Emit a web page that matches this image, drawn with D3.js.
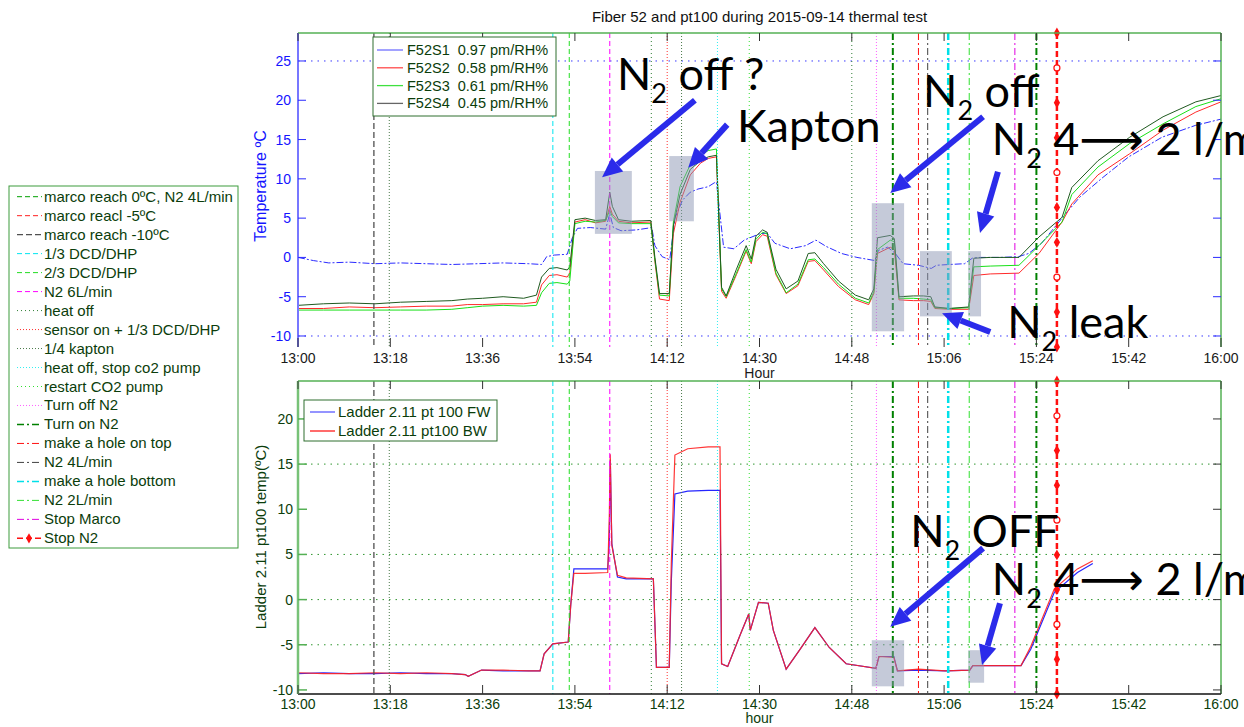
<!DOCTYPE html>
<html>
<head>
<meta charset="utf-8">
<script src="https://cdn.jsdelivr.net/npm/d3@7"></script>
<style>
  body { margin: 0; background: #fff; }
  svg { display: block; font-family: "Liberation Sans", Arial, sans-serif; }
</style>
</head>
<body>
<script>
// ---------- data (time = minutes after 13:00) ----------
var timeTicks = [0, 18, 36, 54, 72, 90, 108, 126, 144, 162, 180];
var timeTickLabels = ["13:00", "13:18", "13:36", "13:54", "14:12", "14:30", "14:48", "15:06", "15:24", "15:42", "16:00"];
var tempTicks = [-10, -5, 0, 5, 10, 15, 20, 25];
var tempGrid = [-10, 25];
var ladderTicks = [-10, -5, 0, 5, 10, 15, 20];
var ladderGrid = [-5, 0, 5, 15];

var fiberNames = ["F52S1  0.97 pm/RH%", "F52S2  0.58 pm/RH%", "F52S3  0.61 pm/RH%", "F52S4  0.45 pm/RH%"];

var timeS1 = [0, 3, 6, 10, 15, 20, 25, 30, 35, 40, 45, 47.5, 48.5, 50, 52.5, 53.5, 54.5, 57, 60, 60.8,
  61.5, 63, 66, 69, 69.6, 71, 72.5, 73.5, 75, 76.5, 78, 80, 81.2, 81.6, 83, 85, 87, 90, 91.5, 93,
  96, 99, 101, 103, 106, 109, 112.5, 113.2, 115, 116.5, 118, 121, 123.5, 124.5, 127, 130, 131.5, 133, 137, 140.5,
  142.5, 145, 147, 150, 152.5, 157, 162, 168.5, 175, 180];
var s1 = [0, -0.4, -0.7, -0.6, -0.8, -0.7, -0.8, -0.9, -0.8, -0.7, -0.8, -0.9, 0.1, 0.3, 0.4, 2.5, 3.7, 3.8, 3.6, 5.6,
  3.8, 3.4, 3.5, 3.8, 1.5, 0.1, -0.3, 5, 7.3, 8.3, 8.7, 9, 9.5, 9.6, 1.3, 1.1, 2.2, 3, 3.1, 1.8,
  1.1, 1.5, 2.2, 1.4, 0.5, 0, -0.4, 0.9, 1.3, 0.5, -0.8, -1.0, -1.4, -1, -0.9, -0.8, -0.1, 0, 0, 0.1,
  0.5, 1.8, 3.4, 5.8, 7.7, 10.2, 12.8, 15.3, 16.8, 17.6];

var timeFiber = [0, 5, 10, 15, 20, 25, 30, 33, 36, 40, 44, 46.5, 47.5, 49, 50.5, 52.5, 53, 54, 56, 58,
  60, 60.8, 61.3, 62.5, 65, 68.8, 69.6, 70.5, 72.4, 73.2, 74.5, 76.5, 78.5, 80, 81.6, 82.6, 83.5, 85.5, 87.4, 88.4,
  89.3, 90.6, 91.5, 93.2, 95.2, 97.5, 99.5, 100.8, 102.5, 105.4, 108.7, 111.3, 112.3, 113, 115.5, 116.3, 117.2, 120, 122, 123.4,
  124.2, 127, 130.8, 131.8, 135, 140.6, 144.5, 149, 150.9, 156, 162.2, 168.7, 175.1, 180];
var s2 = [-6.5, -6.5, -6.3, -6.4, -6.3, -6.2, -6.2, -6.0, -6.0, -5.9, -5.9, -5.7, -3.5, -2.3, -2.2, -2.5, -2.0, 4.5, 4.8, 4.4,
  4.6, 6.5, 5.5, 4.6, 4.4, 4.5, -0.5, -5.3, -5.5, 3, 7, 10.5, 12.0, 12.6, 12.8, -4.3, -5.2, -2.2, 0.8, -0.8,
  2.0, 2.9, 2.7, -2.2, -4.6, -3.6, -0.5, -0.4, -1.6, -3.7, -5.4, -6.0, -4.6, 0.5, 1.3, 1.0, -5.4, -5.5, -5.5, -5.6,
  -6.5, -6.6, -6.6, -2.3, -2.1, -2.0, 0.5, 4.5, 6.8, 10.5, 13.2, 16.2, 18.5, 19.8];
var s3 = [-6.7, -6.7, -6.7, -6.7, -6.7, -6.7, -6.6, -6.4, -6.2, -6.1, -6.2, -6.1, -4.5, -3.3, -3.2, -3.4, -3.0, 4.3, 4.6, 4.5,
  4.7, 6.0, 5.2, 4.4, 4.3, 4.3, -0.3, -4.8, -4.9, 4.5, 9, 11.8, 13.0, 13.6, 13.8, -4.0, -5.0, -2.0, 1.0, -0.6,
  2.3, 3.2, 3.0, -2.0, -4.5, -3.4, -0.3, -0.2, -1.3, -3.4, -5.2, -5.8, -4.4, 1.0, 2.2, 2.0, -5.2, -5.2, -5.3, -5.4,
  -6.4, -6.5, -6.4, -1.2, -1.1, -1.0, 1.5, 4.5, 8.0, 11.5, 14.5, 17.0, 19.2, 20.2];
var s4 = [-6.1, -5.9, -5.8, -5.9, -5.7, -5.6, -5.5, -5.3, -5.2, -5.0, -5.2, -4.8, -2.5, -1.4, -1.3, -1.6, -1.2, 4.8, 5.0, 4.7,
  4.8, 8.3, 6.5, 4.8, 4.6, 4.7, 0, -4.6, -4.6, 4, 8, 11.2, 12.3, 12.8, 13.0, -3.8, -4.9, -1.5, 1.5, -0.2,
  2.7, 3.5, 3.2, -1.5, -4.0, -3.0, 0.5, 0.6, -0.8, -3.0, -4.8, -5.4, -4.0, 2.5, 2.8, 2.4, -5.0, -4.9, -4.9, -5.0,
  -6.3, -6.5, -6.3, -0.1, 0, 0, 2.6, 5.1, 8.9, 12.3, 15.3, 17.9, 19.8, 20.6];

var ladderNames = ["Ladder 2.11 pt 100 FW", "Ladder 2.11 pt100 BW"];
var timeLadder = [0, 5, 10, 15, 20, 25, 30, 32.6, 33.2, 35.8, 40, 45, 47.2, 48, 49.7, 52.7, 53.2, 53.8, 56, 60.4,
  60.7, 60.9, 61.2, 62.3, 64, 69.3, 69.9, 72.4, 72.8, 73.5, 76, 80, 82.3, 82.6, 83.8, 86.3, 87.9, 88.2, 89.8, 91.7,
  92.7, 95.2, 97.8, 100.8, 103.6, 106.9, 112.7, 113.3, 116.2, 116.9, 121, 126.2, 131, 131.6, 141, 142.9, 147.5, 152, 155];
var ladderFW = [-8.2, -8.1, -8.2, -8.2, -8.1, -8.2, -8.2, -8.3, -8.5, -7.8, -7.9, -7.9, -7.9, -6, -4.9, -4.7, -0.5, 3.4, 3.4, 3.4,
  6.2, 15.5, 6.2, 2.5, 2.3, 2.3, -7.5, -7.5, 2, 11.7, 12.0, 12.1, 12.1, -7.1, -7.4, -3.8, -1.6, -3.4, -0.3, -0.4,
  -3.4, -7.7, -5.6, -3.1, -5.3, -7.1, -7.6, -6.3, -6.3, -7.9, -7.8, -7.9, -7.8, -7.3, -7.3, -5.5, 0.8, 3.0, 4.0];
var ladderBW = [-8.1, -8.2, -8.2, -8.1, -8.2, -8.1, -8.2, -8.3, -8.5, -7.8, -7.8, -7.9, -7.9, -6, -4.9, -4.7, -0.5, 2.9, 2.9, 3.0,
  9, 16.1, 6, 2.7, 2.4, 2.3, -7.5, -7.5, 4, 16.0, 16.7, 16.9, 16.9, -7.1, -7.4, -3.8, -1.6, -3.4, -0.3, -0.4,
  -3.4, -7.7, -5.6, -3.1, -5.3, -7.1, -7.6, -6.3, -6.4, -7.9, -7.7, -7.9, -7.8, -7.3, -7.3, -5.2, 1.2, 3.4, 4.3];

var eventLabels = ["marco reach 0\u00baC, N2 4L/min", "marco reacl -5\u00baC", "marco reach -10\u00baC", "1/3 DCD/DHP",
  "2/3 DCD/DHP", "N2 6L/min", "heat off", "sensor on + 1/3 DCD/DHP", "1/4 kapton", "heat off, stop co2 pump",
  "restart CO2 pump", "Turn off N2", "Turn on N2", "make a hole on top", "N2 4L/min", "make a hole bottom",
  "N2 2L/min", "Stop Marco", "Stop N2"];
var eventTimes = [14.8, 17.8, 49.7, 52.9, 60.8, 68.9, 72.0, 74.8, 81.8, 88.0, 108.0, 112.8, 116.0, 121.0, 122.8, 126.8, 130.9, 139.8, 144.0, 148.0];
var eventKinds = [2, 8, 3, 4, 5, 6, 7, 8, 9, 10, 6, 11, 12, 13, 14, 15, 16, 17, 12, 18];

// annotation callouts, in data units of their panel
var noteBoxes = [["top", 57.9, 65.1, 3.0, 11.0], ["top", 72.4, 77.2, 4.6, 12.9], ["top", 111.9, 118.2, -9.4, 6.9],
  ["top", 121.3, 127.5, -7.5, 0.8], ["top", 130.7, 133.2, -7.5, 0.8], ["bot", 111.9, 118.2, -9.6, -4.5], ["bot", 130.7, 133.8, -9.2, -5.6]];
var noteTexts = [["top", 62.2, 21.3, "N2 off ?"], ["top", 85.6, 14.7, "Kapton"], ["top", 121.9, 19.1, "N2 off"],
  ["top", 135.3, 13.0, "N2 4\u27F6 2 l/m"], ["top", 138.3, -10.3, "N2 leak"], ["bot", 119.4, 5.8, "N2 OFF"], ["bot", 135.3, 0.5, "N2 4\u27F6 2 l/m"]];
var noteArrows = [["top", 77.4, 20.0, 59.3, 10.2], ["top", 83.7, 16.9, 76.1, 11.4], ["top", 133.6, 17.9, 115.5, 8.2],
  ["top", 136.5, 10.9, 133.0, 3.1], ["top", 135.0, -9.5, 125.6, -7.1], ["bot", 133.6, 5.7, 115.5, -3.0], ["bot", 136.9, -0.4, 133.4, -7.25]];

// ---------- styles ----------
var eventStyle = [
  {c: "#00a000", d: "5,3", w: 1}, {c: "#ff2020", d: "5,3", w: 1}, {c: "#505050", d: "6,3", w: 1.3},
  {c: "#00e5f0", d: "5,3", w: 1}, {c: "#22dd22", d: "5,3", w: 1}, {c: "#ff00ff", d: "5,3", w: 1},
  {c: "#2e7d32", d: "1,3", w: 1}, {c: "#ff3030", d: "1,2", w: 1}, {c: "#4a7a4a", d: "1,2", w: 1},
  {c: "#30f0f0", d: "1,2", w: 1}, {c: "#30e030", d: "1,3", w: 1}, {c: "#ff60ff", d: "1,2", w: 1},
  {c: "#008000", d: "7,3,2,3", w: 2}, {c: "#ff1010", d: "7,3,2,3", w: 1}, {c: "#404040", d: "7,3,2,3", w: 1},
  {c: "#00e0e8", d: "7,3,2,3", w: 2.5}, {c: "#30e030", d: "7,3,2,3", w: 1}, {c: "#e000e0", d: "7,3,2,3", w: 1},
  {c: "#ff1010", d: "6,3", w: 2.5}
];
var legendGreen = "#0b3d0b";

var svg = d3.select("body").append("svg").attr("width", 1244).attr("height", 727);

var x = d3.scaleLinear().domain([0, 180]).range([298, 1221]);
var yTop = d3.scaleLinear().domain([-11.4, 28.56]).range([347, 33]);
var yBot = d3.scaleLinear().domain([-10.45, 24.2]).range([694, 381]);
var panelY = {top: yTop, bot: yBot};

// clip paths
var defs = svg.append("defs");
[["clipTop", yTop], ["clipBot", yBot]].forEach(function (p) {
  defs.append("clipPath").attr("id", p[0]).append("rect")
    .attr("x", x(0)).attr("y", p[1].range()[1])
    .attr("width", x(180) - x(0)).attr("height", p[1].range()[0] - p[1].range()[1]);
});

// title
svg.append("text").attr("x", (x(0) + x(180)) / 2).attr("y", 22).attr("text-anchor", "middle")
  .style("font-size", "15px").attr("fill", "#111")
  .text("Fiber 52 and pt100 during 2015-09-14 thermal test");

// ---------- grids ----------
svg.append("g").selectAll("line").data(tempGrid).enter().append("line")
  .attr("x1", x(0)).attr("x2", x(180))
  .attr("y1", function (d) { return yTop(d); }).attr("y2", function (d) { return yTop(d); })
  .attr("stroke", "#3a3aff").attr("stroke-dasharray", "1.5,5");
svg.append("g").selectAll("line").data(ladderGrid).enter().append("line")
  .attr("x1", x(0)).attr("x2", x(180))
  .attr("y1", function (d) { return yBot(d); }).attr("y2", function (d) { return yBot(d); })
  .attr("stroke", "#2f952f").attr("stroke-dasharray", "1.5,5");

// ---------- data lines ----------
function lineFor(y) {
  return d3.line().x(function (d) { return x(d[0]); }).y(function (d) { return y(d[1]); });
}
var gTop = svg.append("g").attr("clip-path", "url(#clipTop)");
var topSeries = [
  {t: timeS1, v: s1, c: "#2b2bff", d: "7,2,2,2", w: 1},
  {t: timeFiber, v: s2, c: "#ff2a2a", d: null, w: 1},
  {t: timeFiber, v: s3, c: "#18e018", d: null, w: 1},
  {t: timeFiber, v: s4, c: "#1f5a1f", d: null, w: 1}
];
topSeries.forEach(function (s) {
  gTop.append("path").datum(d3.zip(s.t, s.v)).attr("d", lineFor(yTop))
    .attr("fill", "none").attr("stroke", s.c).attr("stroke-width", s.w)
    .attr("stroke-dasharray", s.d);
});
var gBot = svg.append("g").attr("clip-path", "url(#clipBot)");
gBot.append("path").datum(d3.zip(timeLadder, ladderFW)).attr("d", lineFor(yBot))
  .attr("fill", "none").attr("stroke", "#2626ff").attr("stroke-width", 1.2);
gBot.append("path").datum(d3.zip(timeLadder, ladderBW)).attr("d", lineFor(yBot))
  .attr("fill", "none").attr("stroke", "#ff2020").attr("stroke-width", 1.2).attr("opacity", 0.9);

// ---------- event lines ----------
[yTop, yBot].forEach(function (y) {
  var g = svg.append("g");
  eventTimes.forEach(function (t, i) {
    var st = eventStyle[eventKinds[i]];
    g.append("line").attr("x1", x(t)).attr("x2", x(t))
      .attr("y1", y.range()[1]).attr("y2", y.range()[0])
      .attr("stroke", st.c).attr("stroke-width", st.w).attr("stroke-dasharray", st.d);
    if (eventKinds[i] === 18) {
      var y0 = y.range()[1], y1 = y.range()[0];
      d3.range(10).forEach(function (k) {
        var yy = y0 + (y1 - y0) * k / 9;
        if (k % 3 === 1) {
          g.append("circle").attr("cx", x(t)).attr("cy", yy).attr("r", 3)
            .attr("fill", "#fff").attr("stroke", st.c).attr("stroke-width", 1.2);
        } else {
          g.append("path").attr("d", d3.symbol().type(d3.symbolDiamond).size(34)())
            .attr("transform", "translate(" + x(t) + "," + yy + ")").attr("fill", st.c);
        }
      });
    }
  });
});

// ---------- axes / frames ----------
// top panel
svg.append("line").attr("x1", x(0)).attr("x2", x(180)).attr("y1", 33).attr("y2", 33).attr("stroke", "#55b055").attr("stroke-width", 1.5);
svg.append("line").attr("x1", x(180)).attr("x2", x(180)).attr("y1", 33).attr("y2", 347).attr("stroke", "#55b055").attr("stroke-width", 1.5);
svg.append("line").attr("x1", x(0)).attr("x2", x(0)).attr("y1", 33).attr("y2", 347).attr("stroke", "#7777ff").attr("stroke-width", 2);
tempTicks.forEach(function (v) {
  svg.append("line").attr("x1", x(0)).attr("x2", x(0) + 8).attr("y1", yTop(v)).attr("y2", yTop(v)).attr("stroke", "#2a2aff");
  svg.append("line").attr("x1", x(180) - 8).attr("x2", x(180)).attr("y1", yTop(v)).attr("y2", yTop(v)).attr("stroke", "#2a2aff");
  svg.append("text").attr("x", 291).attr("y", yTop(v) + 5).attr("text-anchor", "end")
    .style("font-size", "14px").attr("fill", "#1414ff").text(v);
});
svg.append("text").attr("transform", "translate(266,186) rotate(-90)").attr("text-anchor", "middle")
  .style("font-size", "16px").attr("fill", "#1414ff").text("Temperature \u00baC");

// bottom panel
svg.append("line").attr("x1", x(0)).attr("x2", x(180)).attr("y1", 381).attr("y2", 381).attr("stroke", "#55b055").attr("stroke-width", 1.5);
svg.append("line").attr("x1", x(180)).attr("x2", x(180)).attr("y1", 381).attr("y2", 694).attr("stroke", "#55b055").attr("stroke-width", 1.5);
svg.append("line").attr("x1", x(0)).attr("x2", x(180)).attr("y1", 694).attr("y2", 694).attr("stroke", "#111").attr("stroke-width", 1.5);
svg.append("line").attr("x1", x(0)).attr("x2", x(0)).attr("y1", 381).attr("y2", 694).attr("stroke", "#77c277").attr("stroke-width", 2.5);
ladderTicks.forEach(function (v) {
  svg.append("line").attr("x1", x(0)).attr("x2", x(0) + 9).attr("y1", yBot(v)).attr("y2", yBot(v)).attr("stroke", "#55b055").attr("stroke-width", 1.5);
  svg.append("line").attr("x1", x(180) - 8).attr("x2", x(180)).attr("y1", yBot(v)).attr("y2", yBot(v)).attr("stroke", "#333");
  svg.append("text").attr("x", 293).attr("y", yBot(v) + 5).attr("text-anchor", "end")
    .style("font-size", "14px").attr("fill", legendGreen).text(v);
});
svg.append("text").attr("transform", "translate(266,537) rotate(-90)").attr("text-anchor", "middle")
  .style("font-size", "15px").attr("fill", legendGreen).text("Ladder 2.11 pt100 temp(\u00baC)");

// x ticks both panels
[[yTop, "#1a1a1a", 363], [yBot, legendGreen, 709]].forEach(function (p) {
  var y = p[0];
  timeTicks.forEach(function (t, i) {
    svg.append("line").attr("x1", x(t)).attr("x2", x(t)).attr("y1", y.range()[1]).attr("y2", y.range()[1] + 8).attr("stroke", "#333");
    svg.append("line").attr("x1", x(t)).attr("x2", x(t)).attr("y1", y.range()[0] - 9).attr("y2", y.range()[0]).attr("stroke", "#333");
    svg.append("text").attr("x", x(t)).attr("y", p[2]).attr("text-anchor", "middle")
      .style("font-size", "14px").attr("fill", p[1]).text(timeTickLabels[i]);
  });
});
svg.append("text").attr("x", (x(0) + x(180)) / 2).attr("y", 378).attr("text-anchor", "middle")
  .style("font-size", "14px").attr("fill", "#1a1a1a").text("Hour");
svg.append("text").attr("x", (x(0) + x(180)) / 2).attr("y", 723).attr("text-anchor", "middle")
  .style("font-size", "14px").attr("fill", legendGreen).text("hour");

// ---------- legends ----------
// top legend
var lt = svg.append("g");
lt.append("rect").attr("x", 373).attr("y", 37).attr("width", 183).attr("height", 79)
  .attr("fill", "#fff").attr("stroke", "#2e6e2e");
var fiberLegendColors = ["#7070ff", "#ff4a4a", "#40e040", "#666"];
fiberNames.forEach(function (n, i) {
  var yy = 50 + i * 17.8;
  lt.append("line").attr("x1", 377).attr("x2", 403).attr("y1", yy).attr("y2", yy).attr("stroke", fiberLegendColors[i]).attr("stroke-width", 1.3);
  lt.append("text").attr("x", 407).attr("y", yy + 5).style("font-size", "14.5px").attr("fill", legendGreen)
    .attr("xml:space", "preserve").text(n);
});
// bottom legend
var lb = svg.append("g");
lb.append("rect").attr("x", 304).attr("y", 400).attr("width", 193).attr("height", 41)
  .attr("fill", "#fff").attr("stroke", "#2e6e2e");
["#7070ff", "#ff3a3a"].forEach(function (c, i) {
  var yy = 412 + i * 19;
  lb.append("line").attr("x1", 310).attr("x2", 335).attr("y1", yy).attr("y2", yy).attr("stroke", c).attr("stroke-width", 1.5);
  lb.append("text").attr("x", 338).attr("y", yy + 5).style("font-size", "15px").attr("fill", legendGreen).text(ladderNames[i]);
});
// event legend
var le = svg.append("g");
le.append("rect").attr("x", 9).attr("y", 186).attr("width", 229).attr("height", 362)
  .attr("fill", "#fff").attr("stroke", "#3d9b3d");
eventLabels.forEach(function (n, i) {
  var st = eventStyle[i];
  var yy = 196.7 + i * 18.98;
  le.append("line").attr("x1", 17).attr("x2", 42).attr("y1", yy).attr("y2", yy)
    .attr("stroke", st.c).attr("stroke-width", Math.min(st.w, 1.5)).attr("stroke-dasharray", st.d);
  if (i === 18) {
    le.append("path").attr("d", d3.symbol().type(d3.symbolDiamond).size(30)())
      .attr("transform", "translate(29," + yy + ")").attr("fill", st.c);
  }
  le.append("text").attr("x", 44).attr("y", yy + 5).style("font-size", "15px").attr("fill", legendGreen).text(n);
});

// ---------- annotations ----------
var gn = svg.append("g");
noteBoxes.forEach(function (b) {
  var y = panelY[b[0]];
  gn.append("rect").attr("x", x(b[1])).attr("y", y(b[4]))
    .attr("width", x(b[2]) - x(b[1])).attr("height", y(b[3]) - y(b[4]))
    .attr("fill", "#8c96b4").attr("opacity", 0.5);
});
noteArrows.forEach(function (a) {
  var y = panelY[a[0]];
  var x0 = x(a[1]), y0 = y(a[2]), x1 = x(a[3]), y1 = y(a[4]);
  var ang = Math.atan2(y1 - y0, x1 - x0), L = 20, Wd = 9;
  var bx = x1 - L * Math.cos(ang), by = y1 - L * Math.sin(ang);
  gn.append("line").attr("x1", x0).attr("y1", y0).attr("x2", bx).attr("y2", by)
    .attr("stroke", "#2b2bea").attr("stroke-width", 6);
  var px = -Math.sin(ang) * Wd, py = Math.cos(ang) * Wd;
  gn.append("path").attr("d", "M" + x1 + "," + y1 + "L" + (bx + px) + "," + (by + py) + "L" + (bx - px) + "," + (by - py) + "Z")
    .attr("fill", "#2b2bea");
});
noteTexts.forEach(function (n) {
  var y = panelY[n[0]];
  var t = gn.append("text").attr("x", x(n[1])).attr("y", y(n[2]))
    .style("font-family", "Lato, 'DejaVu Sans', sans-serif").style("font-size", "45px").attr("fill", "#000")
    .attr("xml:space", "preserve");
  var s = n[3];
  if (s.indexOf("N2") === 0) {
    t.append("tspan").text("N");
    t.append("tspan").attr("dy", 13).style("font-size", "27px").text("2");
    t.append("tspan").attr("dy", -13).text(s.slice(2));
  } else {
    t.text(s);
  }
});
</script>
</body>
</html>
